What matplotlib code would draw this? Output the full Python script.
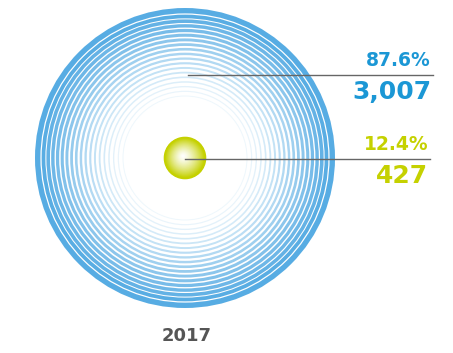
import numpy as np
import matplotlib
matplotlib.use("Agg")
import matplotlib.pyplot as plt
import matplotlib.patches as patches
from matplotlib.colors import to_rgb

# data
labels_pct = ["87.6%", "12.4%"]
labels_val = ["3,007", "427"]
values = [3007, 427]
year = "2017"
colors = ["#1b97d5", "#c5d100"]

W, H = 453, 353
fig = plt.figure(figsize=(W / 100, H / 100), dpi=100)
ax = fig.add_axes([0, 0, 1, 1])
ax.set_xlim(0, W)
ax.set_ylim(H, 0)
ax.set_aspect("equal")
ax.axis("off")

cx, cy = 185, 158
R = 150.0
r_small = R * values[1] / values[0]

def mix(c, t):
    # t=1 full colour, t=0 white
    c = np.array(to_rgb(c))
    return tuple(1 - t * (1 - c))

# big circle: concentric ring strokes, thinner and paler towards the middle
n_rings = 19
ring_col = "#57ace3"
ring_r = np.concatenate([[R - 2.7], np.linspace(R - 8.5, 62, n_rings - 1)])
for i, r in enumerate(ring_r):
    s = i / (n_rings - 1)
    width_px = 5.4 if i == 0 else 3.9 - 2.9 * s
    t = 0.95 * (1 - s) ** 1.2 + 0.1
    ax.add_patch(patches.Circle((cx, cy), r, facecolor="none",
                                edgecolor=mix(ring_col, min(1, t)),
                                linewidth=width_px * 0.72, zorder=1))

# small circle: radial gradient
n = 40
for i in range(n):
    r = r_small * (1 - i / n)
    t = (1 - i / n) ** 1.4
    ax.add_patch(patches.Circle((cx - 2 * i / n, cy - 2 * i / n), r,
                                facecolor=mix(colors[1], min(1, 1.1 * t)),
                                edgecolor="none", zorder=2))

# leader lines
ax.plot([188, 433], [75, 75], color="#666666", lw=1.0, zorder=3)
ax.plot([185, 430], [159, 159], color="#666666", lw=1.0, zorder=3)

# labels
ax.text(431, 60, labels_pct[0], color=colors[0], fontsize=13.5, fontweight="bold",
        ha="right", va="center")
ax.text(432, 92, labels_val[0], color=colors[0], fontsize=18, fontweight="bold",
        ha="right", va="center")
ax.text(429, 144, labels_pct[1], color=colors[1], fontsize=13.5, fontweight="bold",
        ha="right", va="center")
ax.text(428, 176, labels_val[1], color=colors[1], fontsize=18, fontweight="bold",
        ha="right", va="center")
ax.text(187, 336, year, color="#555555", fontsize=13, fontweight="bold",
        ha="center", va="center")

fig.savefig("out.png", dpi=100)
